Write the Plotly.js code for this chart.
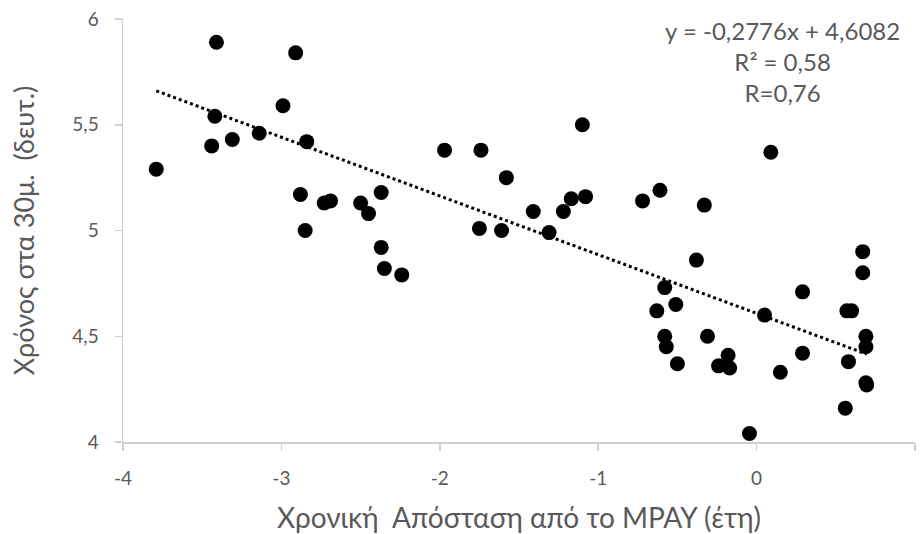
<!DOCTYPE html>
<html>
<head>
<meta charset="utf-8">
<script src="https://cdn.plot.ly/plotly-3.0.1.min.js"></script>
<style>html,body{margin:0;padding:0;background:#fff;}#chart{width:920px;height:534px;}</style>
</head>
<body>
<div id="chart"></div>
<script>
const xValues = [-3.79,-3.41,-3.42,-3.44,-3.31,-3.14,-2.91,-2.99,-2.84,-2.88,-2.85,-2.73,-2.69,-2.50,-2.45,-2.37,-2.37,-2.35,-2.24,
  -1.97,-1.74,-1.75,-1.61,-1.58,-1.41,-1.31,-1.22,-1.17,-1.08,-1.10,-0.72,-0.61,-0.38,-0.33,
  -0.58,-0.51,-0.63,-0.58,-0.57,-0.50,-0.31,-0.18,-0.24,-0.17,-0.045,0.05,0.09,0.15,0.29,0.29,
  0.56,0.57,0.60,0.58,0.67,0.67,0.69,0.69,0.69,0.695];
const yValues = [5.29,5.89,5.54,5.40,5.43,5.46,5.84,5.59,5.42,5.17,5.00,5.13,5.14,5.13,5.08,5.18,4.92,4.82,4.79,
  5.38,5.38,5.01,5.00,5.25,5.09,4.99,5.09,5.15,5.16,5.50,5.14,5.19,4.86,5.12,
  4.73,4.65,4.62,4.50,4.45,4.37,4.50,4.41,4.36,4.35,4.04,4.60,5.37,4.33,4.71,4.42,
  4.16,4.62,4.62,4.38,4.90,4.80,4.50,4.45,4.28,4.27];
const slope = -0.2776;
const intercept = 4.6082;
const xTickVals = [-4,-3,-2,-1,0,1];
const xTickText = ["-4","-3","-2","-1","0","1"];
const yTickVals = [4,4.5,5,5.5,6];
const yTickText = ["4","4,5","5","5,5","6"];
const equationLines = ["y = -0,2776x + 4,6082","R² = 0,58","R=0,76"];
const xTitle = "Χρονική  Απόσταση από το MPAY (έτη)";
const yTitle = "Χρόνος στα 30μ.  (δευτ.)";

const xMin = Math.min(...xValues), xMax = Math.max(...xValues);
const trendX = [xMin, xMax];
const trendY = trendX.map(v => slope * v + intercept);

const font = "Lato, 'Open Sans', sans-serif";
const grey = "#595959";

const traces = [
  {x: xValues, y: yValues, type: "scatter", mode: "markers",
   marker: {color: "#000000", size: 15}, hoverinfo: "x+y"},
  {x: trendX, y: trendY, type: "scatter", mode: "lines",
   line: {color: "#000000", width: 3, dash: "dot"}, hoverinfo: "skip"}
];

const layout = {
  width: 920, height: 534,
  margin: {l: 123, r: 5, t: 19, b: 92},
  paper_bgcolor: "#ffffff", plot_bgcolor: "#ffffff",
  showlegend: false,
  font: {family: font, color: grey},
  xaxis: {
    range: [-4, 1], tickvals: xTickVals, ticktext: xTickText,
    showgrid: false, zeroline: false, automargin: false,
    showline: true, linecolor: "#d0d0d0", linewidth: 1.5,
    ticks: "outside", ticklen: 7, tickcolor: "#d0d0d0", tickwidth: 1.5,
    ticklabelstandoff: 12,
    tickfont: {size: 19, color: grey, family: font},
    title: {text: xTitle, font: {size: 28, color: grey, family: font}, standoff: 22}
  },
  yaxis: {
    range: [4, 6], tickvals: yTickVals, ticktext: yTickText,
    showgrid: false, zeroline: false, automargin: false,
    showline: true, linecolor: "#d0d0d0", linewidth: 1.5,
    ticks: "outside", ticklen: 7, tickcolor: "#d0d0d0", tickwidth: 1.5,
    ticklabelstandoff: 12,
    tickfont: {size: 19, color: grey, family: font},
    title: {text: yTitle, font: {size: 27, color: grey, family: font}, standoff: 30}
  },
  annotations: [{
    xref: "paper", yref: "paper", x: 0.833, y: 0.899,
    xanchor: "center", yanchor: "middle", align: "center",
    showarrow: false,
    text: equationLines.join("<br>"),
    font: {size: 24, color: grey, family: font}
  }]
};

Plotly.newPlot("chart", traces, layout, {staticPlot: true, displayModeBar: false});
</script>
</body>
</html>
